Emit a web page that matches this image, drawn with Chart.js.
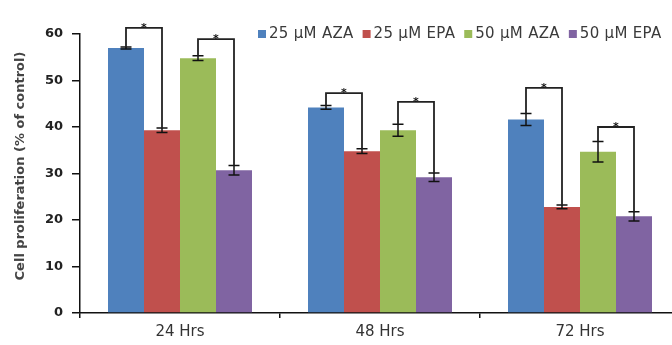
<!DOCTYPE html>
<html>
<head>
<meta charset="utf-8">
<script src="https://cdn.jsdelivr.net/npm/chart.js@4"></script>
<style>
  html, body { margin: 0; padding: 0; background: #fff; overflow: hidden; }
  #wrap { position: relative; width: 700px; height: 345px; }
</style>
</head>
<body>
<div id="wrap"><canvas id="barCanvas" width="700" height="345"></canvas></div>
<script>
const categories = ['24 Hrs', '48 Hrs', '72 Hrs'];
const seriesNames = ['25 µM AZA', '25 µM EPA', '50 µM AZA', '50 µM EPA'];
const seriesColors = ['#4F81BD', '#C0504D', '#9BBB59', '#8064A2'];

const aza25 = [57.0, 44.2, 41.6];
const epa25 = [39.3, 34.8, 22.8];
const aza50 = [54.8, 39.3, 34.7];
const epa50 = [30.7, 29.2, 20.8];

// SEM
const aza25Err = [0.2, 0.4, 1.3];
const epa25Err = [0.5, 0.5, 0.4];
const aza50Err = [0.5, 1.3, 2.2];
const epa50Err = [1.0, 0.9, 1.0];

// height of the significance brackets (AZA vs EPA at same dose)
const bracket25Top = [61.3, 47.3, 48.4];
const bracket50Top = [58.9, 45.4, 40.0];

const yTicks = [0, 10, 20, 30, 40, 50, 60];
const yTitle = 'Cell proliferation (% of control)';

const allValues = [aza25, epa25, aza50, epa50];
const allErrors = [aza25Err, epa25Err, aza50Err, epa50Err];

const FONT = "'DejaVu Sans', sans-serif";

// error bars + significance brackets
const extrasPlugin = {
    id: 'extras',
    afterDatasetsDraw(chart) {
        const ctx = chart.ctx;
        const y = chart.scales.y;
        ctx.save();
        ctx.strokeStyle = '#111';
        ctx.lineWidth = 1.5;
        for (let d = 0; d < allValues.length; d++) {
            const meta = chart.getDatasetMeta(d);
            meta.data.forEach(function (bar, i) {
                const v = allValues[d][i], e = allErrors[d][i];
                const yTop = y.getPixelForValue(v + e);
                const yBot = y.getPixelForValue(v - e);
                ctx.beginPath();
                ctx.moveTo(bar.x, yTop); ctx.lineTo(bar.x, yBot);
                ctx.moveTo(bar.x - 5.5, yTop); ctx.lineTo(bar.x + 5.5, yTop);
                ctx.moveTo(bar.x - 5.5, yBot); ctx.lineTo(bar.x + 5.5, yBot);
                ctx.stroke();
            });
        }
        const pairs = [[0, 1, bracket25Top], [2, 3, bracket50Top]];
        ctx.strokeStyle = '#222';
        ctx.lineWidth = 1.8;
        pairs.forEach(function (p) {
            const mA = chart.getDatasetMeta(p[0]);
            const mB = chart.getDatasetMeta(p[1]);
            for (let i = 0; i < categories.length; i++) {
                const a = mA.data[i], b = mB.data[i];
                const yA = y.getPixelForValue(allValues[p[0]][i] + allErrors[p[0]][i]);
                const yB = y.getPixelForValue(allValues[p[1]][i] + allErrors[p[1]][i]);
                const yT = y.getPixelForValue(p[2][i]);
                ctx.beginPath();
                ctx.moveTo(a.x, yA); ctx.lineTo(a.x, yT);
                ctx.lineTo(b.x, yT); ctx.lineTo(b.x, yB);
                ctx.stroke();
                ctx.fillStyle = '#111';
                ctx.font = 'bold 11px ' + FONT;
                ctx.textAlign = 'center';
                ctx.textBaseline = 'alphabetic';
                ctx.fillText('*', (a.x + b.x) / 2, yT + 3);
            }
        });
        ctx.restore();
    }
};

// legend in the top right (overlapping the plot) and the y title
const legendPlugin = {
    id: 'topLegend',
    afterDraw(chart) {
        const ctx = chart.ctx;
        ctx.save();
        ctx.font = '15px ' + FONT;
        ctx.letterSpacing = '0.3px';
        ctx.textBaseline = 'middle';
        ctx.textAlign = 'left';
        let x = 258;
        const yc = 34;
        seriesNames.forEach(function (name, i) {
            ctx.fillStyle = seriesColors[i];
            ctx.fillRect(x, yc - 4, 8, 8);
            ctx.fillStyle = '#3a3a3a';
            ctx.fillText(name, x + 11, yc);
            x += 11 + ctx.measureText(name).width + 9;
        });
        ctx.restore();

        ctx.save();
        ctx.translate(21, 166);
        ctx.rotate(-Math.PI / 2);
        ctx.font = 'bold 13px ' + FONT;
        ctx.fillStyle = '#444';
        ctx.textAlign = 'center';
        ctx.textBaseline = 'middle';
        ctx.fillText(yTitle, 0, 0);
        ctx.restore();
    }
};

const ctx = document.getElementById('barCanvas').getContext('2d');
const myChart = new Chart(ctx, {
    type: 'bar',
    data: {
        labels: categories,
        datasets: seriesNames.map(function (name, i) {
            return {
                label: name,
                data: allValues[i],
                backgroundColor: seriesColors[i],
                borderWidth: 0,
                categoryPercentage: 0.72,
                barPercentage: 1.0
            };
        })
    },
    options: {
        responsive: false,
        animation: false,
        devicePixelRatio: 1,
        layout: { padding: { top: 34, right: 20, left: 0, bottom: 0 } },
        plugins: {
            legend: { display: false },
            tooltip: { enabled: false }
        },
        scales: {
            x: {
                offset: true,
                grid: {
                    offset: true,
                    drawOnChartArea: false,
                    drawTicks: true,
                    tickLength: 5,
                    color: '#111',
                    lineWidth: 1.5
                },
                border: { color: '#111', width: 1.5 },
                ticks: {
                    font: { family: FONT, size: 15 },
                    color: '#333',
                    padding: 5
                },
                afterFit(scale) { scale.height = 32; }
            },
            y: {
                min: 0,
                max: 60,
                afterBuildTicks(scale) {
                    scale.ticks = yTicks.map(function (v) { return { value: v }; });
                },
                grid: {
                    drawOnChartArea: false,
                    drawTicks: true,
                    tickLength: 8,
                    color: '#111',
                    lineWidth: 1.5
                },
                border: { color: '#111', width: 1.5 },
                ticks: {
                    font: { family: FONT, size: 13, weight: 'bold' },
                    color: '#222',
                    padding: 9
                },
                afterFit(scale) { scale.width = 80; }
            }
        }
    },
    plugins: [extrasPlugin, legendPlugin]
});
</script>
</body>
</html>
